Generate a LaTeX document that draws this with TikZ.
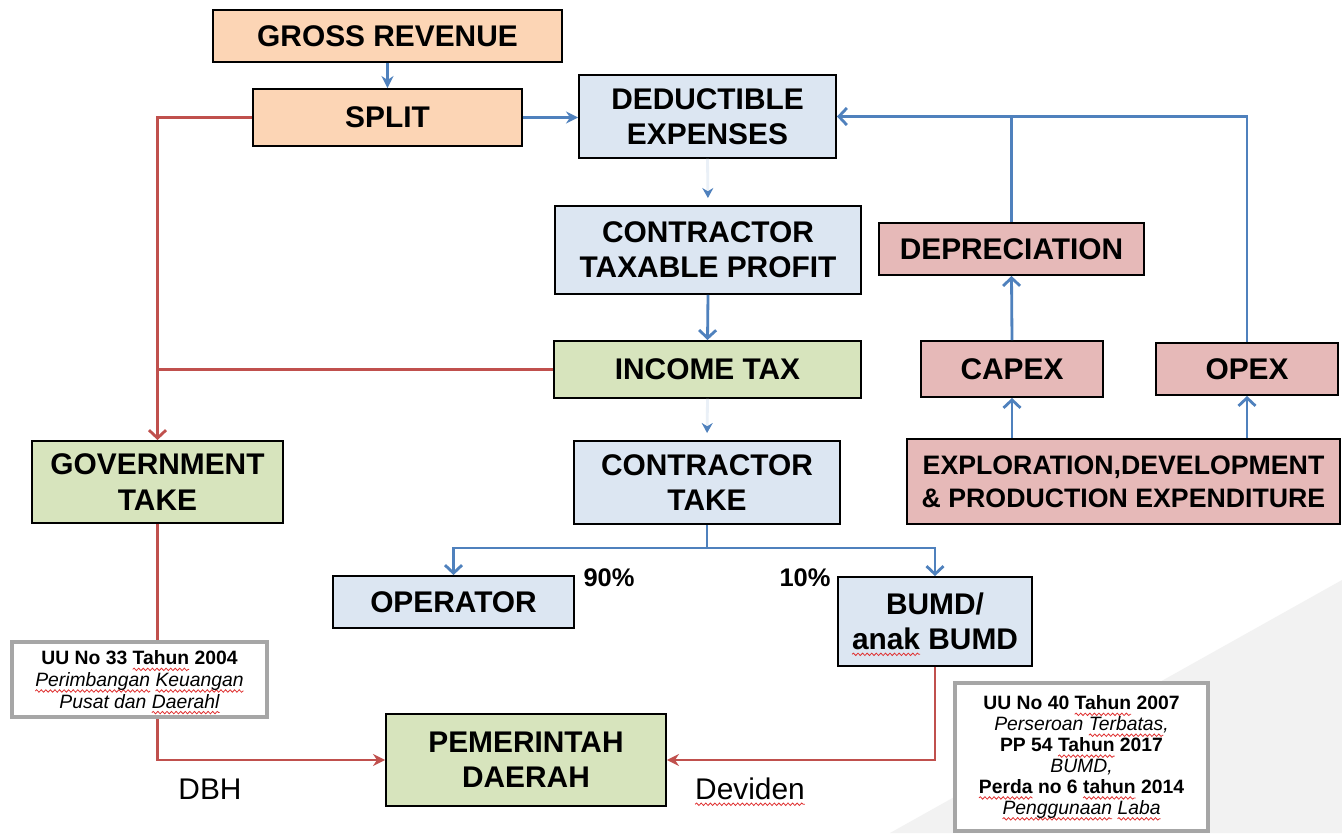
\documentclass[tikz,border=0pt]{standalone}
\usepackage{fontspec}
\setmainfont{Liberation Sans}
\usetikzlibrary{arrows.meta,decorations.pathmorphing}
\definecolor{peach}{HTML}{FCD5B5}
\definecolor{lblue}{HTML}{DCE6F2}
\definecolor{lgreen}{HTML}{D7E4BD}
\definecolor{lpink}{HTML}{E6B9B8}
\definecolor{lineblue}{HTML}{4F81BD}
\definecolor{linered}{HTML}{C0504D}
\definecolor{legalgray}{HTML}{A6A6A6}
\definecolor{bggray}{HTML}{F2F2F2}
\definecolor{wavered}{HTML}{E03030}
\newsavebox\rwbox
\newlength\rwlen
\newcommand\rw[1]{\sbox\rwbox{#1}\setlength\rwlen{\wd\rwbox}%
  \rlap{\tikz[overlay]\draw[draw=wavered, fill=none, line width=0.45pt, decorate,
    decoration={snake, amplitude=0.7pt, segment length=2.6pt}]
    (0pt,-2.6pt) -- (\rwlen,-2.6pt);}\usebox\rwbox}
\begin{document}
\begin{tikzpicture}[x=0.02cm,y=-0.02cm,
  box/.style={draw=black, line width=1.1pt, inner sep=0pt, align=center,
    font=\bfseries\fontsize{17}{20}\selectfont},
  legal/.style={draw=legalgray, line width=2.4pt, fill=white, inner sep=0pt, align=center,
    font=\fontsize{11}{12.3}\selectfont},
  lbl/.style={inner sep=0pt, font=\fontsize{17}{20}\selectfont},
  pct/.style={inner sep=0pt, font=\bfseries\fontsize{14.5}{17}\selectfont},
  bline/.style={draw=lineblue, line width=1.6pt},
  rline/.style={draw=linered, line width=1.6pt},
  faint/.style={draw=lineblue!12, line width=1.6pt, shorten >=4pt,
    -{Stealth[length=2mm,width=2.2mm,color=lineblue]}},
  ab/.style={-{Straight Barb[length=1.6mm,width=3.4mm]}},
  tri/.style={-{Stealth[length=2.4mm,width=2.4mm]}}
]
\useasboundingbox (0,0) rectangle (1342,833);
\fill[white] (0,0) rectangle (1342,833);
\fill[bggray] (890,833) -- (1342,580) -- (1342,833) -- cycle;

% nodes
\node[box, fill=peach, minimum width=6.98cm, minimum height=1.04cm] (gross) at (387.5,36) {GROSS REVENUE};
\node[box, fill=peach, minimum width=5.38cm, minimum height=1.14cm] (split) at (387.5,117.5) {SPLIT};
\node[box, fill=lblue, minimum width=5.14cm, minimum height=1.66cm] (ded) at (707.5,116.5) {DEDUCTIBLE\\EXPENSES};
\node[box, fill=lblue, minimum width=6.12cm, minimum height=1.76cm] (ctp) at (708,250) {CONTRACTOR\\TAXABLE PROFIT};
\node[box, fill=lgreen, minimum width=6.14cm, minimum height=1.14cm] (itax) at (707.5,369.5) {INCOME TAX};
\node[box, fill=lblue, minimum width=5.32cm, minimum height=1.66cm] (ctake) at (707,482.5) {CONTRACTOR\\TAKE};
\node[box, fill=lgreen, minimum width=5.02cm, minimum height=1.64cm] (gtake) at (157.5,482) {GOVERNMENT\\TAKE};
\node[box, fill=lblue, minimum width=4.82cm, minimum height=1.04cm] (oper) at (453.5,602) {OPERATOR};
\node[box, fill=lblue, minimum width=3.88cm, minimum height=1.78cm] (bumd) at (935,621.5) {BUMD/\\\rw{anak} BUMD};
\node[box, fill=lgreen, minimum width=5.6cm, minimum height=1.84cm] (pemda) at (526,760) {PEMERINTAH\\DAERAH};
\node[box, fill=lpink, minimum width=5.3cm, minimum height=1.04cm] (depr) at (1011.5,249) {DEPRECIATION};
\node[box, fill=lpink, minimum width=3.64cm, minimum height=1.12cm] (capex) at (1012,369) {CAPEX};
\node[box, fill=lpink, minimum width=3.64cm, minimum height=1.04cm] (opex) at (1247,369) {OPEX};
\node[box, fill=lpink, minimum width=8.66cm, minimum height=1.7cm,
  font=\bfseries\fontsize{15.2}{19}\selectfont] (expl) at (1123.5,481.5)
  {EXPLORATION,DEVELOPMENT\\\& PRODUCTION EXPENDITURE};

% blue connectors
\draw[bline, tri] (gross.south) -- (split.north);
\draw[bline, tri] (split.east) -- (split.east -| ded.west);
\draw[bline, ab] (depr.north) |- (ded.east);
\draw[bline] (opex.north) |- (depr.north |- ded.east);
\draw[bline, ab] (capex.north) -- (depr.south);
\draw[bline, ab] (expl.north -| capex.south) -- (capex.south);
\draw[bline, ab] (expl.north -| opex.south) -- (opex.south);
\draw[faint] (ded.south) -- (ctp.north);
\draw[bline, ab] (ctp.south) -- (itax.north);
\draw[faint] (itax.south) -- (ctake.north);
\coordinate (cj) at (707,548);
\draw[bline] (ctake.south) -- (cj);
\draw[bline, ab] (cj) -| (oper.north);
\draw[bline, ab] (cj) -| (bumd.north);

% red connectors
\draw[rline, ab] (split.west) -| (gtake.north);
\draw[rline] (itax.west) -- (itax.west -| gtake.north);
\draw[rline, tri] (gtake.south) |- (pemda.west);
\draw[rline, tri] (bumd.south) |- (pemda.east);

% legal boxes
\node[legal, minimum width=5.1cm, minimum height=1.5cm] (law1) at (139.5,679.5)
  {\textbf{UU No 33 \rw{Tahun} 2004}\\\textit{\rw{Perimbangan} \rw{Keuangan}}\\\textit{Pusat dan \rw{Daerahl}}};
\node[legal, minimum width=5.06cm, minimum height=2.96cm,
  font=\fontsize{11}{11.9}\selectfont] (law2) at (1081.5,757)
  {\textbf{UU No 40 \rw{Tahun} 2007}\\\textit{Perseroan \rw{Terbatas},}\\\textbf{PP 54 \rw{Tahun} 2017}\\\textit{BUMD,}\\\textbf{\rw{Perda} no 6 \rw{tahun} 2014}\\\textit{\rw{Penggunaan} \rw{Laba}}};

% labels
\node[lbl] (dbh) at (210,789) {DBH};
\node[lbl] (dev) at (750,789) {\rw{Deviden}};
\node[pct] (p90) at (609,578) {90\%};
\node[pct] (p10) at (805,578) {10\%};
\end{tikzpicture}
\end{document}
